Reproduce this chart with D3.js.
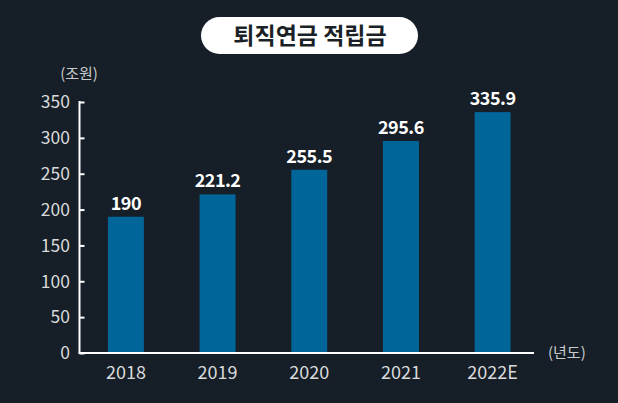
<!DOCTYPE html>
<html><head><meta charset="utf-8">
<script src="https://cdn.jsdelivr.net/npm/d3@7"></script>
<style>
html,body{margin:0;padding:0;background:#161e27;}
svg{display:block;}
text{font-family:"Noto Sans CJK KR","Noto Sans",sans-serif;}
</style></head>
<body>
<script>
const categories = ["2018","2019","2020","2021","2022E"];
const values = [190, 221.2, 255.5, 295.6, 335.9];
const valueLabels = ["190","221.2","255.5","295.6","335.9"];
const yTicks = [0,50,100,150,200,250,300,350];
const title = "퇴직연금 적립금";
const yUnit = "(조원)";
const xUnit = "(년도)";

const W = 618, H = 403;
const svg = d3.select("body").append("svg").attr("width", W).attr("height", H);
svg.append("rect").attr("width", W).attr("height", H).attr("fill", "#161e27");

const x0 = 79.5, y0 = 353;
const y = d3.scaleLinear().domain([0, 350]).range([y0, 102]);
const x = d3.scaleBand().domain(categories).range([x0, 539]).paddingInner(0.608).paddingOuter(0.31);

// title pill
svg.append("rect").attr("x", 201).attr("y", 17).attr("width", 217).attr("height", 37)
  .attr("rx", 18.5).attr("fill", "#ffffff");
svg.append("text").attr("x", 310).attr("y", 36).attr("dy", "0.36em")
  .attr("text-anchor", "middle").attr("font-size", 23).attr("font-weight", 700)
  .attr("fill", "#1b1f26").text(title);

// bars
svg.selectAll("rect.bar").data(values).enter().append("rect").attr("class","bar")
  .attr("x", (d,i) => x(categories[i])).attr("width", x.bandwidth())
  .attr("y", d => y(d)).attr("height", d => y0 - y(d)).attr("fill", "#006699");

// value labels
svg.selectAll("text.val").data(values).enter().append("text").attr("class","val")
  .attr("x", (d,i) => x(categories[i]) + x.bandwidth()/2)
  .attr("y", d => y(d) - 7)
  .attr("text-anchor", "middle").attr("font-size", 18).attr("font-weight", 700)
  .attr("fill", "#ffffff").attr("letter-spacing", "-0.5")
  .text((d,i) => valueLabels[i]);

// y axis
const yAxis = d3.axisRight(y).tickValues(yTicks).tickSize(5).tickFormat("");
const gy = svg.append("g").attr("transform", `translate(${x0},0)`).call(yAxis);
gy.select(".domain").remove();
gy.selectAll(".tick line").attr("stroke", "#ffffff").attr("stroke-width", 2);
svg.append("line").attr("x1", x0).attr("x2", x0).attr("y1", 101).attr("y2", y0)
  .attr("stroke", "#ffffff").attr("stroke-width", 2);
svg.selectAll("text.ytick").data(yTicks).enter().append("text").attr("class","ytick")
  .attr("x", 70).attr("y", d => y(d)).attr("dy", "0.36em")
  .attr("text-anchor", "end").attr("font-size", 17.5).attr("fill", "#d9dadb")
  .text(d => d);

// x axis
svg.append("line").attr("x1", x0 - 1).attr("x2", 534).attr("y1", y0).attr("y2", y0)
  .attr("stroke", "#ffffff").attr("stroke-width", 2);
const xAxis = d3.axisBottom(x).tickSize(0).tickPadding(0);
const gx = svg.append("g").attr("transform", `translate(0,${y0})`).call(xAxis);
gx.select(".domain").remove();
gx.selectAll(".tick text").attr("y", 26).attr("dy", 0)
  .attr("font-family", '"Noto Sans CJK KR","Noto Sans",sans-serif')
  .attr("font-size", 18).attr("fill", "#d9dadb");

// units
svg.append("text").attr("x", 79).attr("y", 74).attr("dy", "0.36em").attr("text-anchor", "middle")
  .attr("font-size", 15).attr("fill", "#c9cbcd").text(yUnit);
svg.append("text").attr("x", 548).attr("y", 353).attr("dy", "0.36em").attr("text-anchor", "start")
  .attr("font-size", 15).attr("fill", "#c9cbcd").text(xUnit);
</script>
</body></html>
